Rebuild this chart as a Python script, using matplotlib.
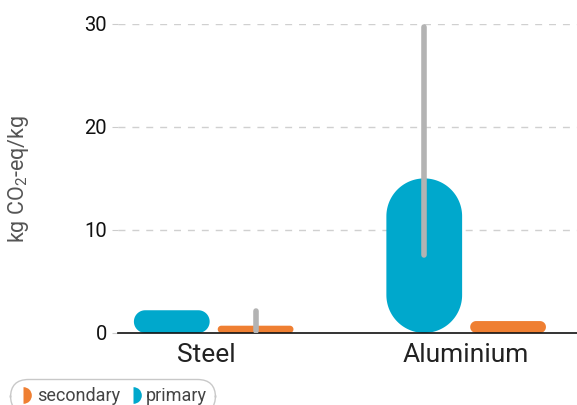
import numpy as np
import matplotlib.pyplot as plt
from matplotlib.patches import Polygon
from matplotlib.lines import Line2D

plt.rcParams['font.family'] = ['Roboto', 'DejaVu Sans']
plt.rcParams['mathtext.fontset'] = 'custom'
plt.rcParams['mathtext.rm'] = 'Roboto'

# data
categories = ['Steel', 'Aluminium']
primary = [2.2, 15.0]
secondary = [0.7, 1.15]
# range lines (low, high) drawn on: steel secondary, aluminium primary
steel_range = [0.2, 2.1]
alu_range = [7.6, 29.7]

c_primary = '#00a8cc'
c_secondary = '#ef7f32'
c_range = '#b3b3b3'


def stadium(bb, n=40):
    # outline of a box with fully rounded short ends, in pixels
    x0, y0, x1, y1 = bb.x0, bb.y0, bb.x1, bb.y1
    r = min(x1 - x0, y1 - y0) / 2
    pts = []
    for cx, cy, a0 in [(x1 - r, y1 - r, 0), (x0 + r, y1 - r, 90),
                       (x0 + r, y0 + r, 180), (x1 - r, y0 + r, 270)]:
        t = np.radians(np.linspace(a0, a0 + 90, n))
        pts += list(zip(cx + r * np.cos(t), cy + r * np.sin(t)))
    return np.array(pts)


fig = plt.figure(figsize=(5.77, 4.05), dpi=100)
ax = fig.add_axes([0.2045, 0.178, 0.7955, 0.763])

x = np.arange(len(categories))
w = 0.30
off = 0.166
bars_p = ax.bar(x - off, primary, w, color=c_primary)
bars_s = ax.bar(x + off, secondary, w, color=c_secondary)

ax.set_xlim(-0.379, 1.439)
ax.set_ylim(0, 30)
ax.set_yticks([0, 10, 20, 30])
ax.set_xticks(x - 0.03 * np.array([1, 0]))
ax.set_xticklabels(categories, fontsize=19, color='#222222')
ax.tick_params(axis='x', length=0, pad=7)
ax.tick_params(axis='y', length=4, color='#cccccc', labelsize=14.5, labelcolor='#111111', pad=4)
for s in ['top', 'right', 'left']:
    ax.spines[s].set_visible(False)
ax.spines['bottom'].set_color('#111111')
ax.spines['bottom'].set_linewidth(1.2)
for v in [10, 20, 30]:
    ax.axhline(v, color='#d0d0d0', lw=1, ls=(0, (5, 5)), zorder=0)
ax.set_ylabel('kg CO$_2$-eq/kg', fontsize=15.5, color='#555555', labelpad=38)

# replace the bars with stadium shapes (radius = half of smaller side)
fig.canvas.draw()
inv = ax.transData.inverted()
for b in list(bars_p) + list(bars_s):
    pts = inv.transform(stadium(b.get_window_extent()))
    ax.add_patch(Polygon(pts, closed=True, facecolor=b.get_facecolor(),
                         edgecolor='none', zorder=2, clip_on=False))
    b.remove()

ax.plot([x[0] + off] * 2, steel_range, color=c_range, lw=4, solid_capstyle='round', zorder=3)
ax.plot([x[1] - off] * 2, alu_range, color=c_range, lw=4, solid_capstyle='round', zorder=3, clip_on=False)

# legend
handles = [Line2D([], [], marker='o', fillstyle='right', markerfacecoloralt='none', color=c_secondary,
                  markeredgewidth=0, markersize=12, ls='none'),
           Line2D([], [], marker='o', fillstyle='right', markerfacecoloralt='none', color=c_primary,
                  markeredgewidth=0, markersize=12, ls='none')]
leg = fig.legend(handles, ['secondary', 'primary'], loc='lower left', bbox_to_anchor=(0.017, -0.02),
                 borderaxespad=0, ncol=2, frameon=True, fontsize=13, handlelength=0.6,
                 handletextpad=0.45, columnspacing=0.4, borderpad=0.45, fancybox=True,
                 labelcolor='#444444')
leg.get_frame().set_edgecolor('#bbbbbb')
leg.get_frame().set_boxstyle('round,pad=0,rounding_size=1.0')

fig.savefig('out.png', dpi=100)
